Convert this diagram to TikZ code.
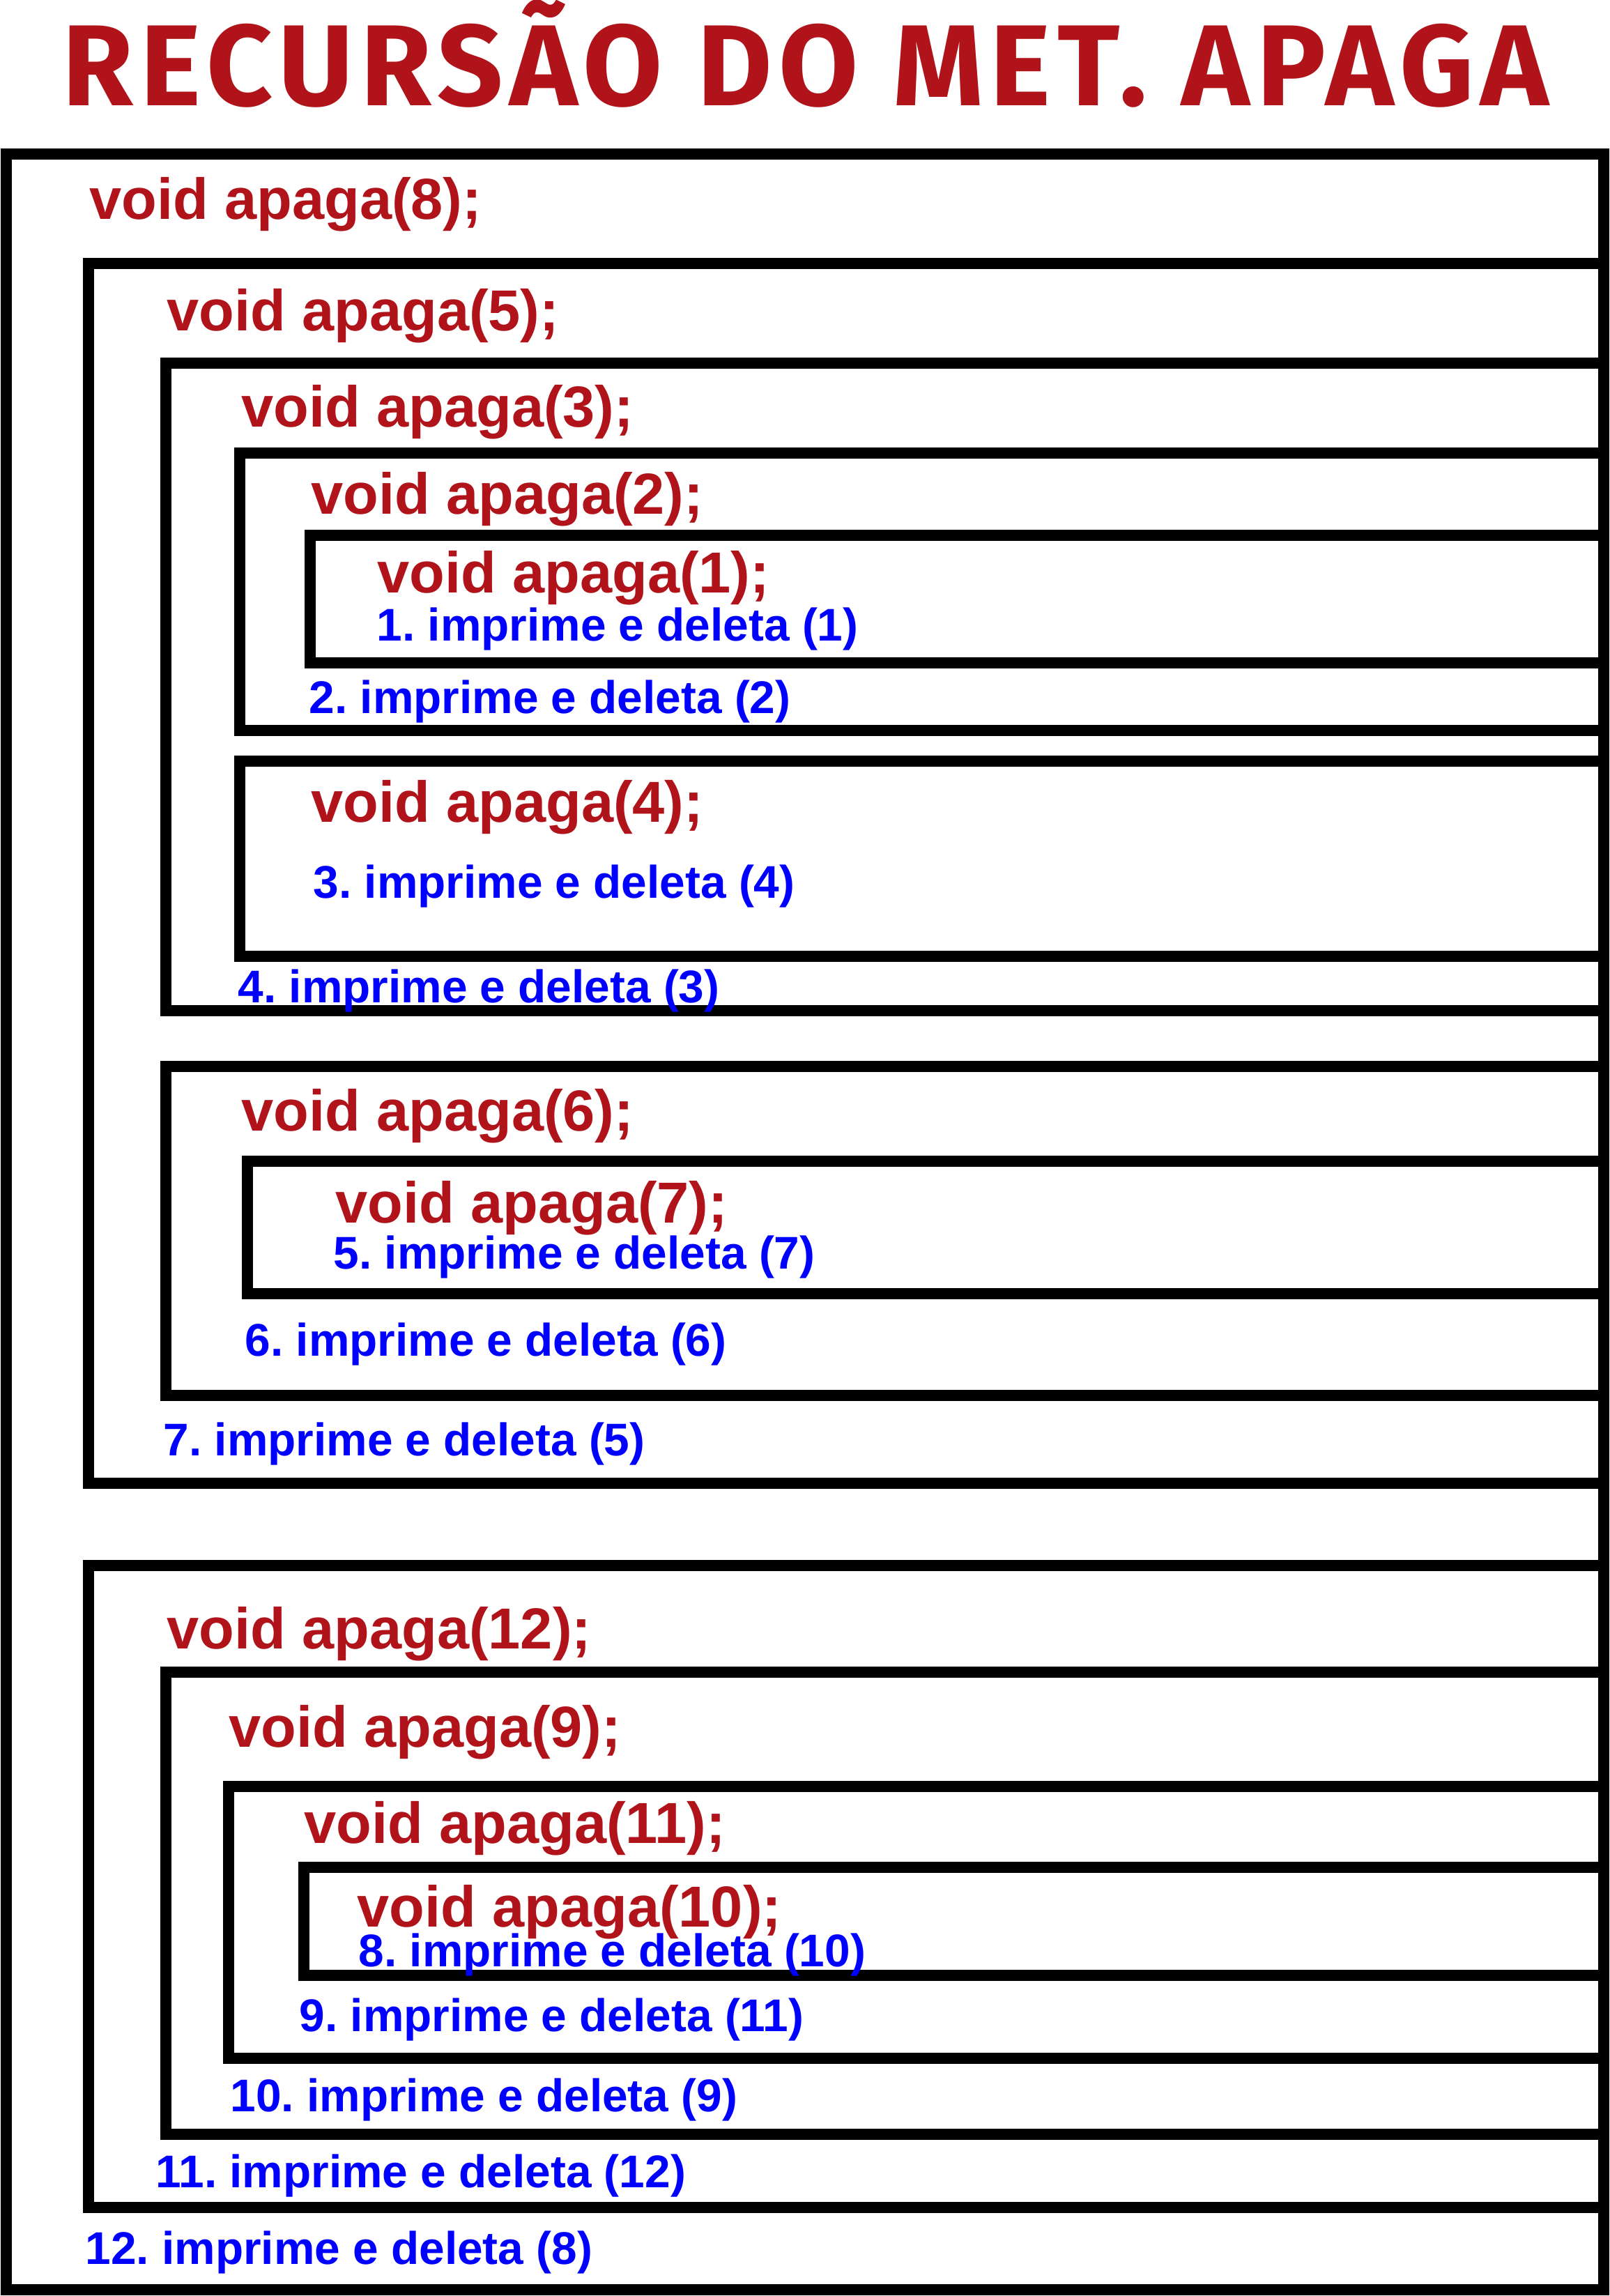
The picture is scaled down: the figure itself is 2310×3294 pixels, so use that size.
\documentclass[tikz,border=0pt]{standalone}
\usepackage{fontspec}
\setmainfont{Liberation Sans}
\newfontfamily\titlefont[LetterSpace=6]{Fira Sans}
\definecolor{vermelho}{RGB}{176,20,26}
\definecolor{azul}{RGB}{0,0,255}
\frenchspacing
\tikzset{
  caixa/.style={line width=4.55pt, line join=miter},
  apagatxt/.style={anchor=base west, inner sep=0pt, text=vermelho, font=\bfseries\fontsize{23.6}{26}\selectfont},
  deltxt/.style={anchor=base west, inner sep=0pt, text=azul, font=\bfseries\fontsize{18.7}{20}\selectfont}
}
\begin{document}
\begin{tikzpicture}[x=0.01cm, y=-0.01cm]
\useasboundingbox (0,0) rectangle (2310,3294);
\node[anchor=base, inner sep=0pt, text=vermelho, font=\titlefont\bfseries\fontsize{47}{50}\selectfont] (titulo) at (1156,152) {RECURSÃO DO MET. APAGA};

% moldura externa
\draw[caixa] (9,221) rectangle (2301,3285);
% caixas abertas a direita
\foreach \l/\t/\b in {127/378/2128, 238/521/1450, 344/650/1048, 445/768/951,
                      344/1092/1372, 238/1530/2002, 355/1666/1856,
                      127/2246/3167, 238/2399/3062, 328/2563/2953, 436/2679/2834}
{
    \draw[caixa] (2301,\t)--(\l,\t)--(\l,\b)--(2301,\b);
}

% chamadas
\foreach \n/\x/\y in {8/128/315, 5/239/475, 3/346/612, 2/446/737, 1/541/850,
                      4/446/1179, 6/346/1622, 7/481/1754,
                      12/239/2365, 9/328/2506, 11/436/2644, 10/512/2764}
{
    \node[apagatxt] (apaga\n) at (\x,\y) {void apaga(\n);};
}
% impressoes
\foreach \k/\n/\x/\y in {1/1/540/919, 2/2/443/1023, 3/4/449/1288, 4/3/341/1438,
                         5/7/478/1820, 6/6/351/1945, 7/5/234/2088,
                         8/10/514/2821, 9/11/429/2914, 10/9/330/3029,
                         11/12/223/3138, 12/8/122/3248}
{
    \node[deltxt] (del\k) at (\x,\y) {\k. imprime e deleta (\n)};
}
\end{tikzpicture}
\end{document}
